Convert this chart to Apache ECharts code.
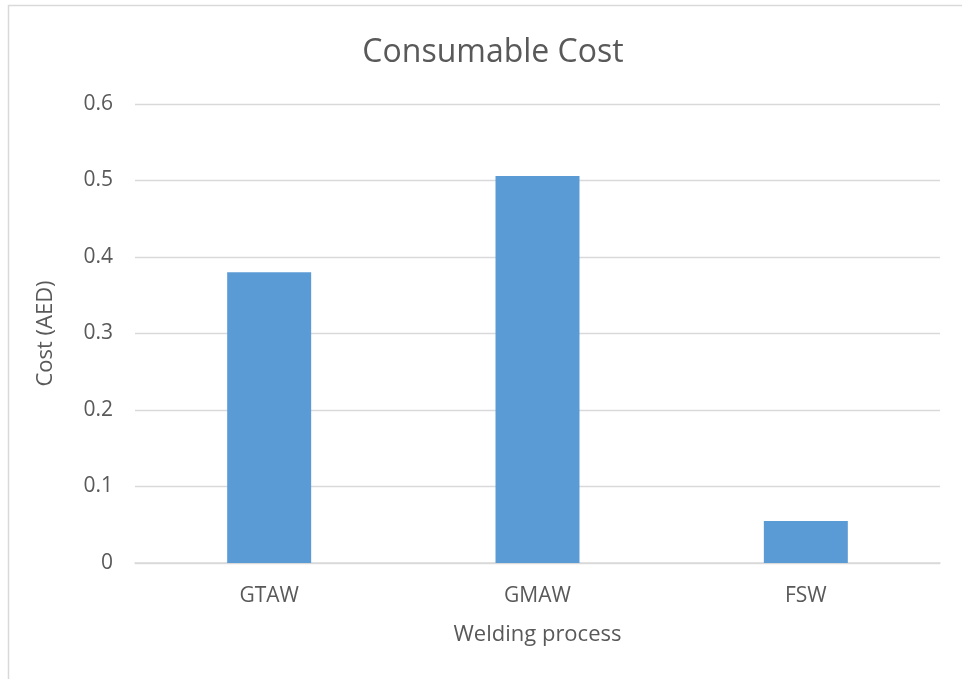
<!DOCTYPE html>
<html>
<head>
<meta charset="utf-8">
<script src="https://cdn.jsdelivr.net/npm/echarts@6/dist/echarts.min.js"></script>
<style>
  html, body { margin: 0; padding: 0; background: #fff; }
  #chart { width: 962px; height: 679px; }
</style>
</head>
<body>
<div id="chart"></div>
<script>
// Consumable cost per welding process
const processes = ['GTAW', 'GMAW', 'FSW'];
const costs = [0.38, 0.506, 0.055];
const yTicks = { min: 0, max: 0.6, interval: 0.1 };

const FONT = '"Open Sans", "Noto Sans", sans-serif';
const TEXT = '#595959';

const chart = echarts.init(document.getElementById('chart'), null, { renderer: 'canvas' });
chart.setOption({
  backgroundColor: '#fff',
  animation: false,
  title: {
    text: 'Consumable Cost',
    left: 488,
    top: 32,
    textAlign: 'center',
    textStyle: { fontFamily: FONT, fontSize: 32, fontWeight: 'normal', color: TEXT }
  },
  graphic: [{
    type: 'rect',
    shape: { x: 8.5, y: 5.5, width: 1000, height: 1000 },
    style: { fill: 'none', stroke: '#d9d9d9', lineWidth: 1.5 },
    silent: true
  }],
  grid: { left: 135, right: 22, top: 104, bottom: 116 },
  xAxis: {
    type: 'category',
    data: processes,
    name: 'Welding process',
    nameLocation: 'middle',
    nameGap: 61,
    nameTextStyle: { fontFamily: FONT, fontSize: 22, color: TEXT },
    axisLine: { lineStyle: { color: '#d9d9d9', width: 1.5 } },
    axisTick: { show: false },
    axisLabel: { fontFamily: FONT, fontSize: 21, color: TEXT, margin: 23 }
  },
  yAxis: {
    type: 'value',
    min: yTicks.min,
    max: yTicks.max,
    interval: yTicks.interval,
    name: 'Cost (AED)',
    nameLocation: 'middle',
    nameGap: 78,
    nameRotate: 90,
    nameTextStyle: { fontFamily: FONT, fontSize: 22, color: TEXT },
    axisLine: { show: false },
    axisTick: { show: false },
    splitLine: { lineStyle: { color: '#d9d9d9', width: 1.3 } },
    axisLabel: {
      fontFamily: FONT, fontSize: 21, color: TEXT, margin: 22,
      formatter: v => (Math.round(v * 10) / 10).toString()
    }
  },
  series: [{
    type: 'bar',
    data: costs,
    barWidth: '31.3%',
    itemStyle: { color: '#5b9bd5' }
  }]
});
</script>
</body>
</html>
